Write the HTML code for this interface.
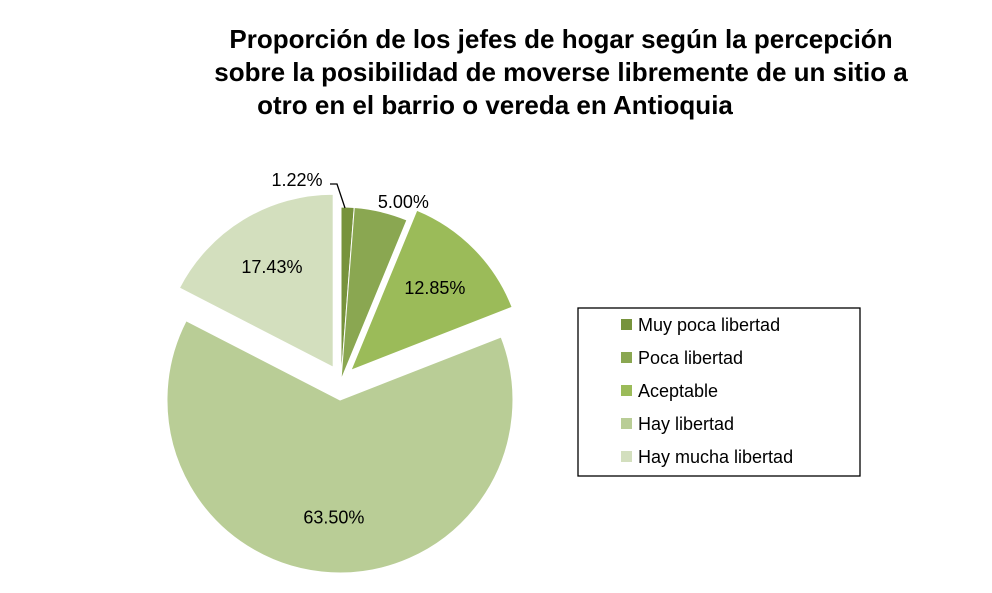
<!DOCTYPE html>
<html><head><meta charset="utf-8"><style>
body{margin:0;background:#fff;width:992px;height:588px;overflow:hidden;font-family:"Liberation Sans",Arial,sans-serif}
</style></head><body>
<svg width="992" height="588" xmlns="http://www.w3.org/2000/svg">
<g font-weight="bold" font-size="26" text-anchor="middle" fill="#000">
<text x="561" y="48">Proporción de los jefes de hogar según la percepción</text>
<text x="561" y="81">sobre la posibilidad de moverse libremente de un sitio a</text>
<text x="495" y="114">otro en el barrio o vereda en Antioquia</text>
</g>
<g id="slices"></g>
<g id="labels" font-size="18" fill="#000" text-anchor="middle"></g>
<polyline points="330,184 337,184 345,208" fill="none" stroke="#000" stroke-width="1.3"/>
<rect x="578" y="308" width="282" height="168" fill="#fff" stroke="#000" stroke-width="1.3"/>
<g id="legend" font-size="18"></g>
</svg>
<script>
const categories=["Muy poca libertad","Poca libertad","Aceptable","Hay libertad","Hay mucha libertad"];
const values=[1.22,5.00,12.85,63.50,17.43];
const valueLabels=["1.22%","5.00%","12.85%","63.50%","17.43%"];
const colors=["#77933c","#8aa751","#9bbb59","#b9cd96","#d3dfbe"];
const explode=[0,0,14,20,15];
const cx=341,cy=380,r=173;
const NS="http://www.w3.org/2000/svg";
const total=values.reduce((a,b)=>a+b,0);
const sg=document.getElementById('slices'),lg=document.getElementById('labels'),leg=document.getElementById('legend');
let acc=0;
const labelOffset=[[-10,-1],[0,0],[0,0],[0,0],[0,0]];
values.forEach((v,i)=>{
  const a0=acc/total*2*Math.PI,a1=(acc+v)/total*2*Math.PI;acc+=v;
  const am=(a0+a1)/2;
  const ox=cx+explode[i]*Math.sin(am),oy=cy-explode[i]*Math.cos(am);
  const x0=ox+r*Math.sin(a0),y0=oy-r*Math.cos(a0),x1=ox+r*Math.sin(a1),y1=oy-r*Math.cos(a1);
  const p=document.createElementNS(NS,'path');
  p.setAttribute('d',`M${ox},${oy}L${x0},${y0}A${r},${r} 0 ${(a1-a0)>Math.PI?1:0} 1 ${x1},${y1}Z`);
  p.setAttribute('fill',colors[i]);p.setAttribute('stroke','#fff');p.setAttribute('stroke-width','1');
  
  
  sg.appendChild(p);
  const t=document.createElementNS(NS,'text');
  let lx,ly;
  if(i===0){lx=297;ly=186;}
  else if(i===1){lx=ox+(r+10)*Math.sin(am)+20;ly=oy-(r+10)*Math.cos(am)+6;}
  else{const rr=r*0.68;lx=ox+rr*Math.sin(am);ly=oy-rr*Math.cos(am)+6;}
  t.setAttribute('x',lx);t.setAttribute('y',ly);t.textContent=valueLabels[i];
  
  
  lg.appendChild(t);
  const s=document.createElementNS(NS,'rect');
  s.setAttribute('x',621);s.setAttribute('y',319+i*33);s.setAttribute('width',11);s.setAttribute('height',11);s.setAttribute('fill',colors[i]);
  
  
  leg.appendChild(s);
  const lt=document.createElementNS(NS,'text');
  lt.setAttribute('x',638);lt.setAttribute('y',331+i*33);lt.textContent=categories[i];
  
  
  leg.appendChild(lt);
});
</script>
</body></html>
